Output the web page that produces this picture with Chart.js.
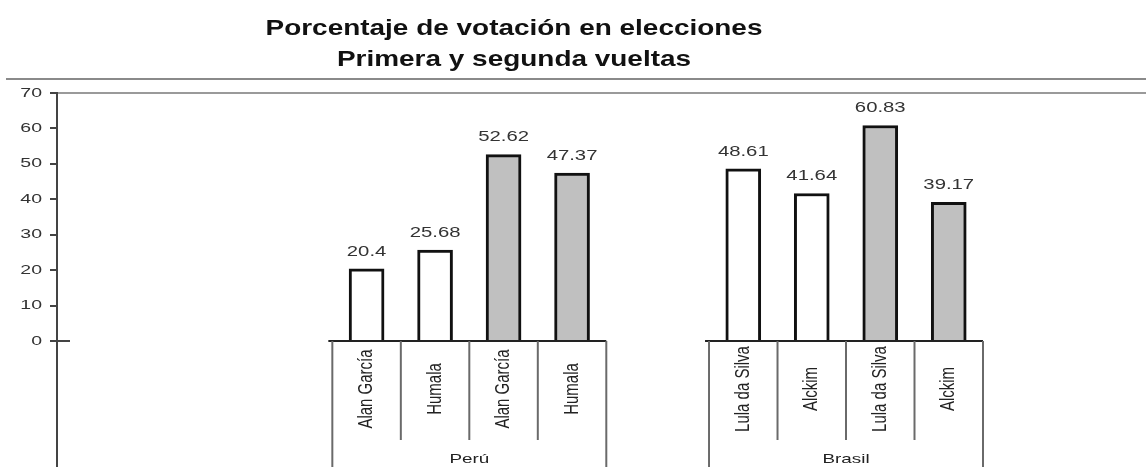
<!DOCTYPE html>
<html>
<head>
<meta charset="utf-8">
<script src="https://cdn.jsdelivr.net/npm/chart.js@4"></script>
<style>
  html, body { margin: 0; padding: 0; background: #fff; }
  #wrap { width: 1146px; height: 467px; position: relative; }
</style>
</head>
<body>
<div id="wrap"><canvas id="myChart"></canvas></div>
<script>
const titleLines = ['Porcentaje de votación en elecciones', 'Primera y segunda vueltas'];
const groups = ['Perú', 'Brasil'];
const candidates = [
  ['Alan García', 'Humala', 'Alan García', 'Humala'],
  ['Lula da Silva', 'Alckim', 'Lula da Silva', 'Alckim']
];
// primera vuelta / segunda vuelta, per group
const primera = [[20.4, 25.68], [48.61, 41.64]];
const segunda = [[52.62, 47.37], [60.83, 39.17]];
const yTicks = [0, 10, 20, 30, 40, 50, 60, 70];

// layout: slot index along a linear x axis
const groupGap = 5.5;
const fillColors = ['#ffffff', '#c0c0c0'];

const bars = [];
groups.forEach((g, gi) => {
  const vals = primera[gi].concat(segunda[gi]);
  vals.forEach((v, i) => {
    bars.push({ x: gi * groupGap + i, y: v, round: i < 2 ? 0 : 1 });
  });
});

const font = '"Liberation Sans", Arial, sans-serif';

// the original picture is stretched sideways, so text is too
function wideText(c, txt, x, y, sx, align) {
  c.save();
  c.translate(x, y);
  c.scale(sx, 1);
  c.textAlign = align || 'center';
  c.fillText(txt, 0, 0);
  c.restore();
}

const decor = {
  id: 'decor',
  beforeDraw(chart) {
    const c = chart.ctx;
    c.save();
    c.fillStyle = '#fff';
    c.fillRect(0, 0, chart.width, chart.height);
    c.restore();
  },
  afterDraw(chart) {
    const c = chart.ctx;
    const xs = chart.scales.x, ys = chart.scales.y;
    const area = chart.chartArea;
    c.save();
    c.textBaseline = 'middle';
    // title
    c.fillStyle = '#111';
    c.font = 'bold 22px ' + font;
    wideText(c, titleLines[0], 514, 29, 1.27);
    wideText(c, titleLines[1], 514, 60, 1.27);
    // line under title
    c.strokeStyle = '#8a8a8a';
    c.lineWidth = 2;
    c.beginPath(); c.moveTo(6, 79); c.lineTo(chart.width, 79); c.stroke();
    // y tick labels
    c.fillStyle = '#333';
    c.font = '13px ' + font;
    yTicks.forEach(v => wideText(c, String(v), 42, ys.getPixelForValue(v), 1.5, 'right'));
    // y axis extension below zero
    const y0 = ys.getPixelForValue(0);
    c.strokeStyle = '#444';
    c.lineWidth = 2;
    c.beginPath(); c.moveTo(area.left, area.bottom); c.lineTo(area.left, chart.height); c.stroke();
    c.beginPath(); c.moveTo(area.left, y0); c.lineTo(area.left + 13, y0); c.stroke();
    // data labels
    c.fillStyle = '#333';
    c.font = '14px ' + font;
    bars.forEach(b => {
      wideText(c, String(b.y), xs.getPixelForValue(b.x), ys.getPixelForValue(b.y) - 17, 1.45);
    });
    // category table
    groups.forEach((g, gi) => {
      const start = gi * groupGap;
      const names = candidates[gi];
      const left = xs.getPixelForValue(start - 0.5);
      const right = xs.getPixelForValue(start + names.length - 0.5);
      c.strokeStyle = '#222';
      c.lineWidth = 2;
      c.beginPath(); c.moveTo(left - 4, y0); c.lineTo(right, y0); c.stroke();
      c.strokeStyle = '#6a6a6a';
      for (let i = 0; i <= names.length; i++) {
        const px = xs.getPixelForValue(start + i - 0.5);
        const outer = i === 0 || i === names.length;
        c.beginPath(); c.moveTo(px, y0); c.lineTo(px, outer ? chart.height : 440); c.stroke();
      }
      c.fillStyle = '#222';
      c.font = '15px ' + font;
      names.forEach((n, i) => {
        const px = xs.getPixelForValue(start + i);
        c.save();
        c.translate(px, 389);
        c.scale(1.35, 1);
        c.rotate(-Math.PI / 2);
        c.textAlign = 'center';
        c.fillText(n, 0, 0);
        c.restore();
      });
      c.font = '13px ' + font;
      wideText(c, g, (left + right) / 2, 459, 1.45);
    });
    c.restore();
  }
};

new Chart(document.getElementById('myChart'), {
  type: 'bar',
  data: {
    datasets: [{
      data: bars,
      backgroundColor: bars.map(b => fillColors[b.round]),
      borderColor: '#111',
      borderWidth: 3,
      borderSkipped: 'bottom',
      barThickness: 35
    }]
  },
  options: {
    responsive: true,
    maintainAspectRatio: false,
    animation: false,
    layout: { padding: { top: 93, bottom: 126, left: 0, right: 0 } },
    plugins: { legend: { display: false }, title: { display: false }, tooltip: { enabled: false } },
    scales: {
      x: {
        type: 'linear',
        display: false,
        offset: false,
        min: -4.52,
        max: 11.38
      },
      y: {
        min: 0,
        max: 70,
        afterFit(scale) { scale.width = 57; },
        afterBuildTicks(scale) { scale.ticks = yTicks.map(v => ({ value: v })); },
        border: { color: '#444', width: 2 },
        grid: {
          color: ctx => ctx.tick && ctx.tick.value === 70 ? '#9a9a9a' : 'rgba(0,0,0,0)',
          lineWidth: 2,
          tickColor: '#444',
          tickLength: 7,
          drawOnChartArea: true
        },
        ticks: { display: false }
      }
    }
  },
  plugins: [decor]
});
</script>
</body>
</html>
